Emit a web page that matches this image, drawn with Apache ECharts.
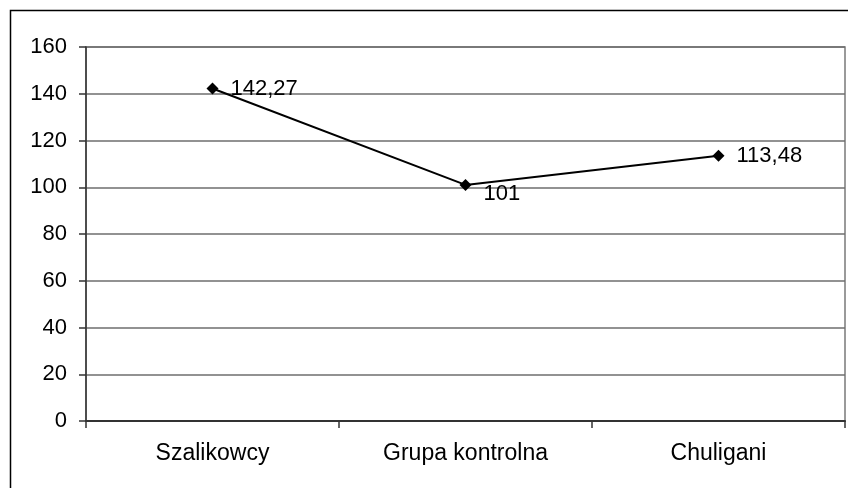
<!DOCTYPE html>
<html>
<head>
<meta charset="utf-8">
<script src="https://cdn.jsdelivr.net/npm/echarts@6/dist/echarts.min.js"></script>
<style>
  html, body { margin: 0; padding: 0; background: #fff; }
  #chart { width: 848px; height: 488px; }
</style>
</head>
<body>
<div id="chart"></div>
<script>
// Groups along the x axis and their mean scores
const categories = ['Szalikowcy', 'Grupa kontrolna', 'Chuligani'];
const values = [142.27, 101, 113.48];
const valueLabels = ['142,27', '101', '113,48'];
const yTicks = { min: 0, max: 160, interval: 20 };

const FONT = '"Liberation Sans", Arial, sans-serif';

const chart = echarts.init(document.getElementById('chart'), null, { renderer: 'canvas' });

const seriesData = values.map((v, i) => {
  const item = { value: v };
  if (i === 1) {
    item.label = { offset: [0, 9] };
  }
  return item;
});

chart.setOption({
  animation: false,
  backgroundColor: '#ffffff',
  graphic: [{
    type: 'rect',
    shape: { x: 10.5, y: 10.5, width: 900, height: 600 },
    style: { fill: 'none', stroke: '#000', lineWidth: 1.5 },
    silent: true
  }],
  grid: {
    left: 86, right: 3, top: 47, bottom: 67,
    show: true,
    borderColor: '#7a7a7a',
    borderWidth: 1.5,
    backgroundColor: 'transparent'
  },
  xAxis: {
    type: 'category',
    data: categories,
    boundaryGap: true,
    axisLine: { lineStyle: { color: '#333', width: 2 } },
    axisTick: { show: true, length: 7, alignWithLabel: false, lineStyle: { color: '#333', width: 1.5 } },
    axisLabel: { color: '#000', fontFamily: FONT, fontSize: 23, margin: 21 },
    splitLine: { show: false }
  },
  yAxis: {
    type: 'value',
    min: yTicks.min, max: yTicks.max, interval: yTicks.interval,
    axisLine: { show: true, lineStyle: { color: '#333', width: 1.5 } },
    axisTick: { show: true, length: 7, lineStyle: { color: '#333', width: 1.5 } },
    axisLabel: { color: '#000', fontFamily: FONT, fontSize: 22, margin: 19 },
    splitLine: { show: true, lineStyle: { color: '#6e6e6e', width: 1.5 } }
  },
  series: [{
    type: 'line',
    data: seriesData,
    symbol: 'diamond',
    symbolSize: 12,
    lineStyle: { color: '#000', width: 2 },
    itemStyle: { color: '#000' },
    label: {
      show: true,
      position: 'right',
      distance: 12,
      color: '#000',
      fontFamily: FONT,
      fontSize: 22,
      formatter: p => valueLabels[p.dataIndex]
    }
  }]
});
</script>
</body>
</html>
